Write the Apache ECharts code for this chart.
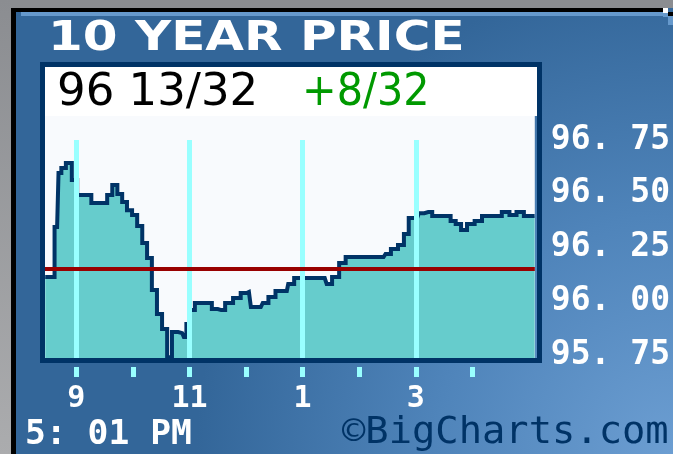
<!DOCTYPE html>
<html>
<head>
<meta charset="utf-8">
<script src="https://cdn.jsdelivr.net/npm/echarts@6/dist/echarts.min.js"></script>
<style>
  html, body { margin: 0; padding: 0; }
  #main { width: 673px; height: 454px; }
</style>
</head>
<body>
<div id="main"></div>
<script>
  // intraday prices, time in hours (24h clock)
  var times = [8.45, 8.57, 8.66, 8.71, 8.76, 8.87, 8.97, 9.06, 9.20, 9.33, 9.50, 9.59, 9.68, 9.77, 9.85, 9.94,
    10.03, 10.12, 10.21, 10.29, 10.38, 10.47, 10.56, 10.65, 10.73, 10.87, 10.93, 10.96, 11.05, 11.14, 11.35,
    11.44, 11.56, 11.70, 11.84, 11.97, 12.05, 12.12, 12.26, 12.33, 12.46, 12.58, 12.72, 12.77, 12.93, 13.39,
    13.46, 13.58, 13.71, 13.81, 14.43, 14.50, 14.62, 14.75, 14.83, 14.92, 15.03, 15.08, 15.22, 15.36, 15.57,
    15.66, 15.75, 15.85, 15.96, 16.12, 16.22, 16.45, 16.59, 16.72, 16.84, 16.98, 17.10];
  var prices = [96.113, 96.113, 96.345, 96.597, 96.620, 96.643, 96.564, 96.494, 96.494, 96.457, 96.457, 96.494,
    96.541, 96.499, 96.462, 96.424, 96.401, 96.350, 96.271, 96.201, 96.052, 95.941, 95.871, 95.740, 95.857,
    95.852, 95.834, 95.894, 95.959, 95.992, 95.992, 95.964, 95.959, 95.992, 96.015, 96.038, 96.043, 95.973,
    95.973, 95.992, 96.020, 96.048, 96.048, 96.080, 96.108, 96.108, 96.080, 96.113, 96.178, 96.206, 96.206,
    96.220, 96.243, 96.262, 96.313, 96.387, 96.392, 96.410, 96.415, 96.397, 96.397, 96.373, 96.359, 96.331,
    96.359, 96.373, 96.397, 96.397, 96.415, 96.401, 96.415, 96.397, 96.397];
  var prevClose = 96.15;
  var tickHours = [9, 10, 11, 12, 13, 14, 15, 16];
  var labelHours = [9, 11, 13, 15];
  var gridHours = [9, 11, 13, 15];
  var priceTicks = [95.75, 96.00, 96.25, 96.50, 96.75];
  var lastText = '96 13/32';
  var changeText = '+8/32';

  var xMin = 8.446, xMax = 17.103;
  var yMin = 95.736, yMax = 96.862;

  var chart = echarts.init(document.getElementById('main'));

  var pts = [];
  for (var i = 0; i < times.length; i++) {
    pts.push([times[i], prices[i]]);
  }
  var gridLines = gridHours.map(function (h) {
    return [{coord: [h, 96.75]}, {coord: [h, yMin]}];
  });

  var mono = 'DejaVu Sans Mono';

  chart.setOption({
    animation: false,
    backgroundColor: {
      type: 'radial', x: 1, y: 1, r: 1.05,
      colorStops: [{offset: 0, color: '#6c9ed2'}, {offset: 0.5, color: '#4f84ba'}, {offset: 1, color: '#336699'}]
    },
    grid: {
      left: 45, right: 136, top: 116, bottom: 96,
      show: true, backgroundColor: '#f8fafd', borderWidth: 0
    },
    xAxis: {
      type: 'value', min: xMin, max: xMax, offset: 9,
      axisLine: {show: false},
      splitLine: {show: false},
      axisTick: {show: true, length: 10, customValues: tickHours, lineStyle: {color: '#99ffff', width: 5}},
      axisLabel: {
        customValues: labelHours, margin: 17,
        color: '#ffffff', fontFamily: mono, fontWeight: 'bold', fontSize: 30,
        formatter: function (h) { return String(h > 12 ? h - 12 : h); }
      }
    },
    yAxis: {
      type: 'value', min: yMin, max: yMax, position: 'right',
      axisLine: {show: false},
      axisTick: {show: false},
      splitLine: {show: false},
      axisLabel: {
        customValues: priceTicks, margin: 16, align: 'left',
        color: '#ffffff', fontFamily: mono, fontWeight: 'bold', fontSize: 33,
        formatter: function (v) { return v.toFixed(2).replace('.', '. '); }
      }
    },
    series: [
      {
        // filled area
        type: 'line', data: pts, z: 2, showSymbol: false, step: 'middle',
        lineStyle: {width: 0},
        areaStyle: {color: '#66cccc', opacity: 1}
      },
      {
        // vertical hour grid lines, above fill, below price line
        type: 'line', data: [], z: 3,
        markLine: {
          silent: true, symbol: 'none', label: {show: false},
          lineStyle: {color: '#99ffff', width: 5, type: 'solid'},
          data: gridLines
        }
      },
      {
        type: 'line', data: pts, z: 4, showSymbol: false, step: 'middle',
        lineStyle: {color: '#003366', width: 4, join: 'miter'}
      },
      {
        // previous close
        type: 'line', data: [], z: 5,
        markLine: {
          silent: true, symbol: 'none', label: {show: false},
          lineStyle: {color: '#990000', width: 4, type: 'solid'},
          data: [{yAxis: prevClose}]
        }
      }
    ],
    graphic: [
      // frame at top and left
      {type: 'rect', z: 10, shape: {x: 0, y: 0, width: 673, height: 8}, style: {fill: '#8b8d91'}},
      {type: 'rect', z: 10, shape: {x: 0, y: 0, width: 11, height: 454},
        style: {fill: {type: 'linear', x: 0, y: 0, x2: 0, y2: 1,
          colorStops: [{offset: 0, color: '#8b8d91'}, {offset: 1, color: '#abacae'}]}}},
      {type: 'rect', z: 10, shape: {x: 11, y: 8, width: 652, height: 4}, style: {fill: '#000000'}},
      {type: 'rect', z: 10, shape: {x: 11, y: 8, width: 5, height: 446}, style: {fill: '#000000'}},
      {type: 'rect', z: 10, shape: {x: 21, y: 12, width: 642, height: 4}, style: {fill: '#6699cc'}},
      {type: 'rect', z: 10, shape: {x: 663, y: 8, width: 5, height: 5}, style: {fill: '#ffffff'}},
      {type: 'rect', z: 10, shape: {x: 668, y: 12, width: 5, height: 4}, style: {fill: '#000000'}},
      {type: 'rect', z: 10, shape: {x: 663, y: 13, width: 5, height: 4}, style: {fill: '#6699cc'}},
      {type: 'rect', z: 10, shape: {x: 668, y: 16, width: 5, height: 9}, style: {fill: '#6699cc'}},
      // title
      {type: 'text', z: 10, x: 48, y: 20, scaleX: 1.25,
        style: {text: '10 YEAR PRICE', fill: '#ffffff', font: 'bold 40px "DejaVu Sans"'}},
      // header box
      {type: 'rect', z: 10, shape: {x: 45, y: 67, width: 492, height: 49}, style: {fill: '#ffffff'}},
      {type: 'rect', z: 12, shape: {x: 42.5, y: 64.5, width: 497, height: 296},
        style: {fill: null, stroke: '#003366', lineWidth: 5}},
      {type: 'text', z: 11, x: 57, y: 71,
        style: {text: lastText, fill: '#000000', font: '45px "DejaVu Sans"'}},
      {type: 'text', z: 11, x: 302, y: 71, scaleX: 0.92,
        style: {text: changeText, fill: '#009900', font: '45px "DejaVu Sans"'}},
      // footer
      {type: 'text', z: 10, x: 25, y: 419, scaleX: 1.05,
        style: {text: '5: 01 PM', fill: '#ffffff', font: 'bold 33px "DejaVu Sans Mono"'}},
      {type: 'text', z: 10, x: 342, y: 414, scaleX: 1.02,
        style: {text: '\u00a9BigCharts.com', fill: '#003366', font: '38px "DejaVu Sans Mono"'}}
    ]
  });
</script>
</body>
</html>
